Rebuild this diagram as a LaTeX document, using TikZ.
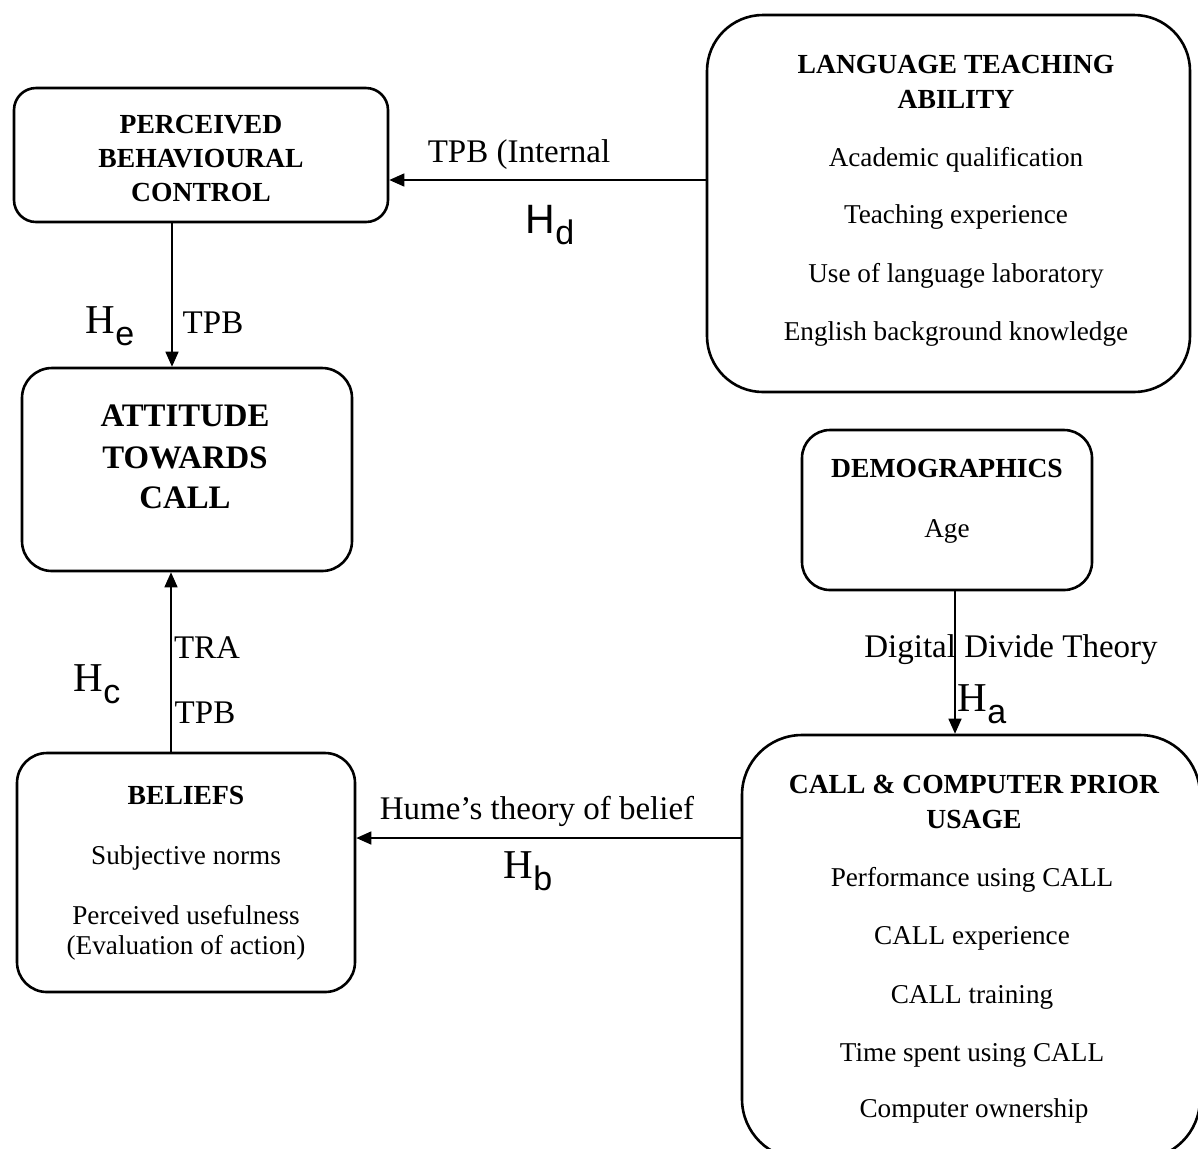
\documentclass[tikz,border=0pt]{standalone}
\usepackage{fontspec}
\setmainfont{Liberation Serif}
\newfontfamily\subsans{Liberation Sans}
\usetikzlibrary{arrows.meta}
\tikzset{
  box/.style={draw, line width=1.3pt, rectangle, inner sep=0pt},
  txt/.style={inner sep=0pt, font=\fontsize{13.6}{16}\selectfont, yshift=-1.5pt},
  head/.style={inner sep=0pt, font=\fontsize{13.8}{16}\selectfont\bfseries},
  bighead/.style={inner sep=0pt, font=\fontsize{16.4}{19}\selectfont\bfseries},
  lab/.style={inner sep=0pt, font=\fontsize{16.5}{19}\selectfont, yshift=-1.5pt},
  hyp/.style={inner sep=0pt, font=\fontsize{20.5}{24}\selectfont},
  conn/.style={line width=0.75pt, -{Triangle[length=7.5pt,width=6.5pt]}},
}
\newcommand{\hsub}[1]{H\raisebox{-0.28em}{\subsans\fontsize{17}{20}\selectfont #1}}
\begin{document}
\begin{tikzpicture}[x=0.5pt,y=-0.5pt]
\useasboundingbox (0,0) rectangle (1198,1148);
\clip (0,0) rectangle (1198,1148);
% boxes
\node[box, rounded corners=11pt, minimum width=187pt, minimum height=67pt] (pbc) at (201,155) {};
\node[box, rounded corners=28pt, minimum width=241.5pt, minimum height=188.5pt] (lta) at (948.5,203.5) {};
\node[box, rounded corners=15pt, minimum width=165pt, minimum height=101.5pt] (att) at (187,469.5) {};
\node[box, rounded corners=14pt, minimum width=145pt, minimum height=80pt] (dem) at (947,510) {};
\node[box, rounded corners=15pt, minimum width=169pt, minimum height=119.5pt] (bel) at (186,872.5) {};
\node[box, rounded corners=30pt, minimum width=229pt, minimum height=212pt] (cal) at (971,947) {};
% PBC text
\node[head] (pbc1) at (201,125) {PERCEIVED};
\node[head] (pbc2) at (201,159) {BEHAVIOURAL};
\node[head] (pbc3) at (201,192) {CONTROL};
% LTA text
\node[head] (lta1) at (956,64) {LANGUAGE TEACHING};
\node[head] (lta2) at (956,99) {ABILITY};
\node[txt] (lta3) at (956,157) {Academic qualification};
\node[txt] (lta4) at (956,214) {Teaching experience};
\node[txt] (lta5) at (956,273) {Use of language laboratory};
\node[txt] (lta6) at (956,331) {English background knowledge};
% ATT text
\node[bighead] (att1) at (185,416) {ATTITUDE};
\node[bighead] (att2) at (185,458) {TOWARDS};
\node[bighead] (att3) at (185,498) {CALL};
% DEM text
\node[head] (dem1) at (947,468) {DEMOGRAPHICS};
\node[txt] (dem2) at (947,528) {Age};
% BELIEFS text
\node[head] (bel1) at (186,795) {BELIEFS};
\node[txt] (bel2) at (186,855) {Subjective norms};
\node[txt] (bel3) at (186,912) {Perceived usefulness};
\node[txt] (bel4) at (186,945) {(Evaluation of action)};
% CALL text
\node[head] (cal1) at (974,784) {CALL \& COMPUTER PRIOR};
\node[head] (cal2) at (974,819) {USAGE};
\node[txt] (cal3) at (972,877) {Performance using CALL};
\node[txt] (cal4) at (972,935) {CALL experience};
\node[txt] (cal5) at (972,994) {CALL training};
\node[txt] (cal6) at (972,1052) {Time spent using CALL};
\node[txt] (cal7) at (974,1108) {Computer ownership};
% connectors
\draw[conn] (lta.west |- 0,180) coordinate (ltaout) -- (pbc.east |- ltaout);
\draw[conn] (pbc.south -| 172,0) coordinate (pbcout) -- (att.north -| pbcout);
\draw[conn] (bel.north -| 171,0) coordinate (belout) -- (att.south -| belout);
\draw[conn] (dem.south -| 955,0) coordinate (demout) -- (cal.north -| demout);
\draw[conn] (cal.west |- 0,838) coordinate (calout) -- (bel.east |- calout);
% labels
\node[lab] (l1) at (519,152) {TPB (Internal};
\node[hyp] (hd) at (550,225) {\subsans H\raisebox{-0.28em}{\fontsize{17}{20}\selectfont d}};
\node[lab] (l2) at (213,320) {TPB};
\node[hyp] (he) at (110,326) {\hsub{e}};
\node[lab] (l3) at (207,645) {TRA};
\node[lab] (l4) at (205,710) {TPB};
\node[hyp] (hc) at (97,684) {\hsub{c}};
\node[lab] (l5) at (1011,647) {Digital Divide Theory};
\node[hyp] (ha) at (982,704) {\hsub{a}};
\node[lab] (l6) at (537,808) {Hume’s theory of belief};
\node[hyp] (hb) at (528,871) {\hsub{b}};
\end{tikzpicture}
\end{document}
